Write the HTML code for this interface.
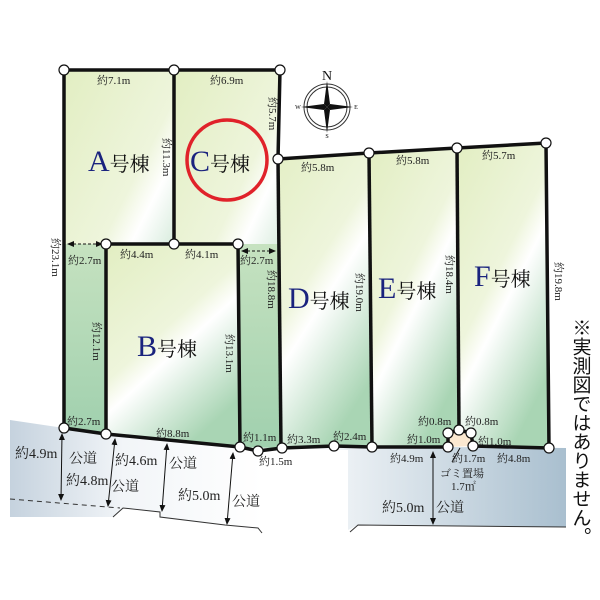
<!DOCTYPE html>
<html><head><meta charset="utf-8"><style>
html,body{margin:0;padding:0;background:#fff;}
svg{display:block;font-family:"Liberation Serif","Noto Serif CJK SC",serif;}
.t{font-size:11px;fill:#222;}
.big{font-size:30px;fill:#1a237e;}
.hn{font-size:20px;fill:#111;}
.rd{font-size:14px;fill:#222;}
</style></head><body>
<svg width="600" height="600" viewBox="0 0 600 600" xmlns="http://www.w3.org/2000/svg">
<defs>
<linearGradient id="lot" x1="0" y1="0" x2="0.6" y2="1">
<stop offset="0" stop-color="#e2eec2"/><stop offset="0.5" stop-color="#eef5dc"/><stop offset="0.62" stop-color="#ffffff"/><stop offset="1" stop-color="#a9d5b4"/>
</linearGradient>
<linearGradient id="strip" x1="0" y1="0" x2="0" y2="1">
<stop offset="0" stop-color="#c6e2c0"/><stop offset="1" stop-color="#a0d0ae"/>
</linearGradient>
<linearGradient id="roadL" x1="0" y1="0" x2="1" y2="0">
<stop offset="0" stop-color="#c5d2de"/><stop offset="0.45" stop-color="#f2f5f8"/><stop offset="1" stop-color="#ffffff"/>
</linearGradient>
<linearGradient id="roadR" x1="0" y1="0" x2="1" y2="0">
<stop offset="0" stop-color="#ffffff"/><stop offset="1" stop-color="#a9bfcf"/>
</linearGradient>
<marker id="ar" markerUnits="userSpaceOnUse" markerWidth="8" markerHeight="8" refX="6" refY="4" orient="auto-start-reverse"><path d="M0,1 L7,4 L0,7 z" fill="#111"/></marker>
</defs>

<polygon points="10,420 64,428 106,434 240,447 258,451 262,533 225,525 160,517 160,512 123,508 113,517 10,517" fill="url(#roadL)"/>
<polygon points="282,448 334,446 372,447 448,447 566,448 566,527 358,525 348,530 348,450" fill="url(#roadR)"/>
<polyline points="113,517 123,508 160,512 160,517 225,525 258,528 262,533" fill="none" stroke="#333" stroke-width="1"/>
<polyline points="350,532 358,525 566,527" fill="none" stroke="#333" stroke-width="1"/>
<line x1="10" y1="499" x2="120" y2="508" stroke="#333" stroke-dasharray="5,4"/>

<polygon points="64,70 174,70 174,244 106,244 106,434 64,428" fill="url(#lot)"/>
<polygon points="64,244 106,244 106,434 64,428" fill="url(#strip)"/>
<polygon points="174,70 280,70 278,159 281,448 240,447 238,244 174,244" fill="url(#lot)"/>
<polygon points="238,244 278,244 281,448 240,447" fill="url(#strip)"/>
<polygon points="106,244 238,244 240,447 106,434" fill="url(#lot)"/>
<polygon points="278,159 369,153 372,447 334,446 282,448 258,451 281,448" fill="url(#lot)"/>
<polygon points="369,153 457,148 459,430 448,433 448,447 372,447" fill="url(#lot)"/>
<polygon points="457,148 546,143 549,448 473,446 471,433 459,430" fill="url(#lot)"/>
<polygon points="448,433 459,430 471,433 473,446 448,447" fill="#fbe8d0"/>

<g fill="none" stroke="#111" stroke-width="3.5" stroke-linejoin="round">
<polyline points="64,428 64,70 280,70 278,159 369,153 457,148 546,143 549,448 473,446"/>
<polyline points="448,447 372,447 334,446 282,448 258,451 240,447 106,434 64,428"/>
<line x1="174" y1="70" x2="174" y2="244"/>
<polyline points="106,434 106,244 238,244 240,447"/>
<line x1="278" y1="159" x2="281" y2="448"/>
<line x1="369" y1="153" x2="372" y2="447"/>
<polyline points="457,148 459,430"/>
<polyline points="448,447 448,433 459,430 471,433 473,446"/>
</g>

<g stroke="#111" stroke-dasharray="3,2" stroke-width="1">
<line x1="68" y1="244" x2="102" y2="244" marker-start="url(#ar)" marker-end="url(#ar)"/>
<line x1="242" y1="251" x2="275" y2="251" marker-start="url(#ar)" marker-end="url(#ar)"/>
</g>

<g fill="#fff" stroke="#111" stroke-width="1.2">
<circle cx="64" cy="70" r="5"/><circle cx="174" cy="70" r="5"/><circle cx="280" cy="70" r="5"/>
<circle cx="278" cy="159" r="5"/><circle cx="369" cy="153" r="5"/><circle cx="457" cy="148" r="5"/><circle cx="546" cy="143" r="5"/>
<circle cx="106" cy="244" r="5"/><circle cx="174" cy="244" r="5"/><circle cx="238" cy="244" r="5"/>
<circle cx="64" cy="428" r="5"/><circle cx="106" cy="434" r="5"/><circle cx="240" cy="447" r="5"/>
<circle cx="258" cy="451" r="5"/><circle cx="282" cy="448" r="5"/><circle cx="334" cy="446" r="5"/><circle cx="372" cy="447" r="5"/>
<circle cx="448" cy="433" r="5"/><circle cx="459" cy="430" r="5"/><circle cx="471" cy="433" r="5"/>
<circle cx="448" cy="447" r="5"/><circle cx="473" cy="446" r="5"/><circle cx="549" cy="448" r="5"/>
</g>

<g transform="translate(327,107)">
<circle r="23" fill="#fff" stroke="#333" stroke-width="1"/>
<circle r="20" fill="none" stroke="#333" stroke-width="1"/>
<polygon points="0,-26 3,-3 0,0 -3,-3" fill="#111"/>
<polygon points="0,26 3,3 0,0 -3,3" fill="#111"/>
<polygon points="-26,0 -3,-3 0,0 -3,3" fill="#111"/>
<polygon points="26,0 3,-3 0,0 3,3" fill="#111"/>
<text x="0" y="-27" font-size="14" text-anchor="middle" fill="#111">N</text>
<text x="-29" y="2" font-size="6" text-anchor="middle">W</text>
<text x="29" y="2" font-size="6" text-anchor="middle">E</text>
<text x="0" y="31" font-size="6" text-anchor="middle">S</text>
</g>

<circle cx="227" cy="160" r="40" fill="none" stroke="#e0222a" stroke-width="3.5"/>

<text x="88" y="171"><tspan class="big">A</tspan><tspan class="hn">号棟</tspan></text>
<text x="190" y="171"><tspan class="big">C</tspan><tspan class="hn">号棟</tspan></text>
<text x="137" y="356"><tspan class="big">B</tspan><tspan class="hn">号棟</tspan></text>
<text x="288" y="308"><tspan class="big">D</tspan><tspan class="hn">号棟</tspan></text>
<text x="378" y="298"><tspan class="big">E</tspan><tspan class="hn">号棟</tspan></text>
<text x="474" y="286"><tspan class="big">F</tspan><tspan class="hn">号棟</tspan></text>

<g class="t">
<text x="97" y="84">約7.1m</text>
<text x="210" y="84">約6.9m</text>
<text x="301" y="171">約5.8m</text>
<text x="396" y="164">約5.8m</text>
<text x="482" y="159">約5.7m</text>
<text x="68" y="264">約2.7m</text>
<text x="120" y="258">約4.4m</text>
<text x="185" y="258">約4.1m</text>
<text x="240" y="264">約2.7m</text>
<text x="67" y="425">約2.7m</text>
<text x="156" y="437">約8.8m</text>
<text x="243" y="441">約1.1m</text>
<text x="259" y="465">約1.5m</text>
<text x="287" y="443">約3.3m</text>
<text x="333" y="440">約2.4m</text>
<text x="407" y="443">約1.0m</text>
<text x="418" y="425">約0.8m</text>
<text x="465" y="425">約0.8m</text>
<text x="478" y="445">約1.0m</text>
<text x="390" y="462">約4.9m</text>
<text x="452" y="462">約1.7m</text>
<text x="497" y="462">約4.8m</text>
<text x="440" y="477">ゴミ置場</text>
<text x="451" y="490">1.7㎡</text>
</g>
<line x1="460" y1="448" x2="452" y2="462" stroke="#111"/>

<g class="t">
<text transform="translate(163,138) rotate(90)">約11.3m</text>
<text transform="translate(269,97) rotate(90)">約5.7m</text>
<text transform="translate(52,238) rotate(90)">約23.1m</text>
<text transform="translate(93,322) rotate(90)">約12.1m</text>
<text transform="translate(226,334) rotate(90)">約13.1m</text>
<text transform="translate(268,270) rotate(90)">約18.8m</text>
<text transform="translate(356,273) rotate(90)">約19.0m</text>
<text transform="translate(446,255) rotate(90)">約18.4m</text>
<text transform="translate(555,262) rotate(90)">約19.8m</text>
</g>

<g stroke="#111" stroke-width="1">
<line x1="62" y1="434" x2="61" y2="500" marker-start="url(#ar)" marker-end="url(#ar)"/>
<line x1="115" y1="439" x2="108" y2="506" marker-start="url(#ar)" marker-end="url(#ar)"/>
<line x1="167" y1="444" x2="162" y2="511" marker-start="url(#ar)" marker-end="url(#ar)"/>
<line x1="233" y1="453" x2="227" y2="524" marker-start="url(#ar)" marker-end="url(#ar)"/>
<line x1="433" y1="452" x2="433" y2="524" marker-start="url(#ar)" marker-end="url(#ar)"/>
</g>
<g class="rd">
<text x="15" y="458">約4.9m</text>
<text x="69" y="463">公道</text>
<text x="66" y="485">約4.8m</text>
<text x="111" y="491">公道</text>
<text x="115" y="465">約4.6m</text>
<text x="169" y="468">公道</text>
<text x="178" y="500">約5.0m</text>
<text x="232" y="506">公道</text>
<text x="382" y="512">約5.0m</text>
<text x="436" y="512">公道</text>
</g>

<text x="580" y="318" font-size="19" fill="#111" style="writing-mode:vertical-rl;font-family:'Liberation Sans','Noto Sans CJK JP',sans-serif;" text-anchor="start">※実測図ではありません。</text>
</svg>
</body></html>
